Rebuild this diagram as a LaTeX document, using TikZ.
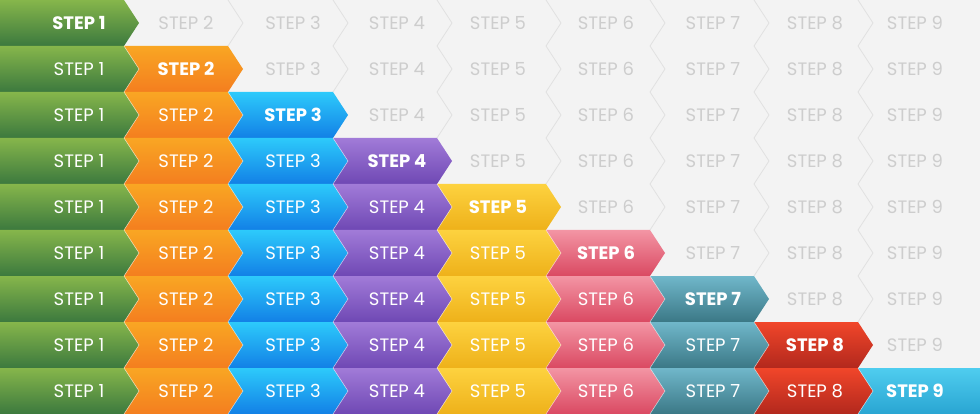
\documentclass[tikz,border=0pt]{standalone}
\usepackage{fontspec}
\setmainfont{Poppins}
\definecolor{bg}{HTML}{F3F3F3}
\definecolor{zig}{HTML}{E1E1E1}
\definecolor{graytext}{HTML}{CDCDCD}
\definecolor{top0}{HTML}{86B64B}\definecolor{bot0}{HTML}{3C793E}
\definecolor{top1}{HTML}{F9A623}\definecolor{bot1}{HTML}{F47E1F}
\definecolor{top2}{HTML}{2DCAFB}\definecolor{bot2}{HTML}{1280E6}
\definecolor{top3}{HTML}{A17BD8}\definecolor{bot3}{HTML}{6F48B4}
\definecolor{top4}{HTML}{FDD23F}\definecolor{bot4}{HTML}{EEB11A}
\definecolor{top5}{HTML}{F395A4}\definecolor{bot5}{HTML}{DA4962}
\definecolor{top6}{HTML}{70B7CA}\definecolor{bot6}{HTML}{3B7886}
\definecolor{top7}{HTML}{F1462A}\definecolor{bot7}{HTML}{B2281D}
\definecolor{top8}{HTML}{4FCDEF}\definecolor{bot8}{HTML}{29A5D2}
\tikzset{
  steptext/.style={inner sep=0pt, anchor=center, font=\fontsize{18}{18}\selectfont},
  donetext/.style={steptext, text=white},
  activetext/.style={steptext, text=white, font=\fontsize{18}{18}\selectfont\bfseries},
  idletext/.style={steptext, text=graytext},
  zigline/.style={draw=zig, line width=0.8pt},
  sepline/.style={draw=white, draw opacity=0.55, line width=0.6pt}
}
\begin{document}
\begin{tikzpicture}[x=1pt,y=-1pt]
\useasboundingbox (0,0) rectangle (980,414);
\fill[bg] (0,0) rectangle (980,414);
\def\dep{15}
\foreach \r in {0,...,8}{
  \pgfmathsetmacro\T{46*\r}
  \pgfmathsetmacro\M{46*\r+23}
  \pgfmathsetmacro\Bt{46*\r+46}
  % grey zigzags
  \pgfmathtruncatemacro\first{\r+2}
  \ifnum\first<9
    \foreach \k in {\first,...,8}{
      \pgfmathsetmacro\X{{0,124,228,333,437,546,650,754,858,980}[\k]}
      \draw[zigline] (\X,\T) -- (\X+\dep,\M) -- (\X,\Bt);
    }
  \fi
  \foreach \c in {0,...,8}{
    \pgfmathsetmacro\L{{0,124,228,333,437,546,650,754,858,980}[\c]}
    \pgfmathsetmacro\R{{0,124,228,333,437,546,650,754,858,980}[\c+1]}
    \pgfmathsetmacro\C{{79,186,293,397,498,606,713,815,915}[\c]}
    \pgfmathtruncatemacro\n{\c+1}
    \ifnum\c>\r
      \node[idletext] (t\r-\c) at (\C,\M) {STEP \n};
    \else
      \ifnum\c=0
        \path[top color=top\c, bottom color=bot\c] (\L,\T) -- (\R,\T) -- (\R+\dep,\M) -- (\R,\Bt) -- (\L,\Bt) -- cycle;
      \else
        \ifnum\c=8
          \path[top color=top\c, bottom color=bot\c] (\L,\T) -- (\R,\T) -- (\R,\Bt) -- (\L,\Bt) -- (\L+\dep,\M) -- cycle;
        \else
          \path[top color=top\c, bottom color=bot\c] (\L,\T) -- (\R,\T) -- (\R+\dep,\M) -- (\R,\Bt) -- (\L,\Bt) -- (\L+\dep,\M) -- cycle;
        \fi
        \draw[sepline] (\L,\T) -- (\L+\dep,\M) -- (\L,\Bt);
      \fi
      \ifnum\c=\r
        \node[activetext] (t\r-\c) at (\C,\M) {STEP \n};
      \else
        \node[donetext] (t\r-\c) at (\C,\M) {STEP \n};
      \fi
    \fi
  }
}
\end{tikzpicture}
\end{document}
